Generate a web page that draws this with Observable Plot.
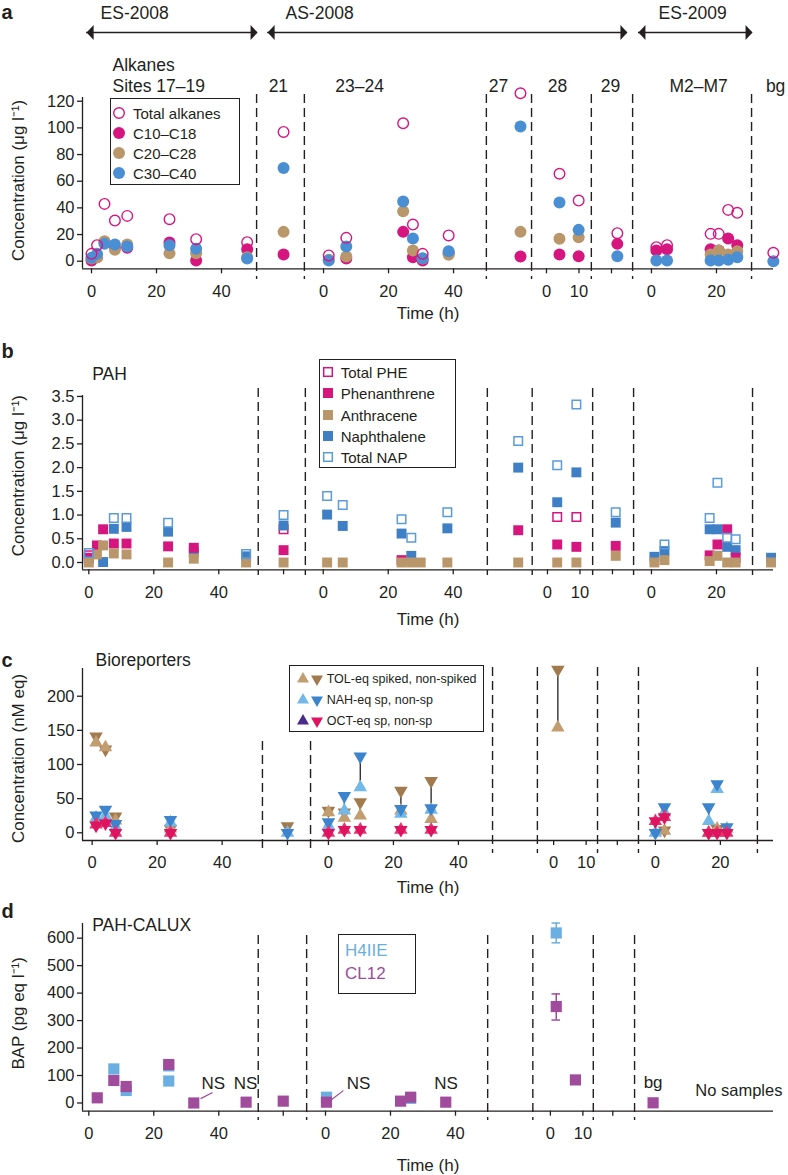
<!DOCTYPE html>
<html><head><meta charset="utf-8">
<script src="https://cdn.jsdelivr.net/npm/d3@7"></script>
<script src="https://cdn.jsdelivr.net/npm/@observablehq/plot@0.6"></script>
<style>
body{margin:0;background:#fff;}
#fig{position:relative;width:788px;height:1175px;font-family:"Liberation Sans",Arial,Helvetica,sans-serif;color:#231f20;overflow:hidden;}
#fig svg.pl{display:block;}
.leg{position:absolute;border:1.5px solid #231f20;box-sizing:border-box;}
.lt{position:absolute;white-space:nowrap;line-height:1;transform:translateY(-50%);}
</style></head><body><div id="fig"></div><script>
// ================= DATA =================
// Panel a — alkanes (µg/l); site group and time (h) of each sample
const alkSite = ["17–19","17–19","17–19","17–19","17–19","17–19","17–19","17–19","21",
  "23–24","23–24","23–24","23–24","23–24","23–24","27","28","28","29",
  "M2–M7","M2–M7","M2–M7","M2–M7","M2–M7","M2–M7","bg"];
const alkTime = [0,1.7,4,7.2,11,24,32.2,47.9,0, 1.6,7,24.5,27.5,30.5,38.5,0,4,9.9,1.8, 1.5,4.8,18.2,20.7,23.6,26.4,0];
const totalAlkanes = [5.5,12,43,30.5,34,31.5,16.5,14.3,97, 4.3,17.5,103.5,27.5,5.5,19.3,126,65.6,45.5,21, 10.5,12,20.5,20.5,38.5,36.3,6.3];
const c10c18 = [0.5,3,14,10,10,14,0.5,9,5, null,2,22,3,0.5,6,3.5,5,3.8,13, 8,9,9,8,17,12,null];
const c20c28 = [2,3,15,8.5,12.5,6,6,3,22, 1,3.5,37.5,8,2,4.8,22,16.8,18,null, null,null,5,8,5,7.5,null];
const c30c40 = [2.5,5.5,13,12.5,11,12,9.3,2,70, 0.5,11,44.8,17,2.3,7.5,101,44,23.5,3.8, 0.5,0.5,0.5,0.5,1,3,0];

// Panel b — PAH (µg/l)
const pahSite = ["17–19","17–19","17–19","17–19","17–19","17–19","17–19","17–19","21",
  "23–24","23–24","23–24","23–24","23–24","23–24","27","28","28","29",
  "M2–M7","M2–M7","M2–M7","M2–M7","M2–M7","M2–M7","bg"];
const pahTime = [0,2.5,4.4,7.7,11.6,24.4,32.3,48.4,0, 1.2,6,24.1,27.1,30,38.2,0,3,8.9,1, 0.9,4,17.9,20.3,23.3,25.9,0];
const totalPHE = [0.15,null,null,null,null,null,null,null,0.7, null,null,null,null,null,null,null,0.96,0.96,null, null,null,null,null,null,null,null];
const phenanthrene = [0.1,0.36,0.7,0.4,0.4,0.34,0.31,null,0.26, null,null,0.05,null,null,null,0.68,0.38,0.33,0.35, null,null,0.15,0.38,0.7,0.1,null];
const anthracene = [0,0.17,0.36,0.19,0.17,0,0.08,0,0, 0,0,0,0,0,0,0,0,0,0.14, 0,0.05,0.03,0.14,0,0,0];
const naphthalene = [0.08,null,0.01,0.71,0.75,0.65,0.22,0.13,0.78, 1.01,0.77,0.61,0.14,null,0.72,2.0,1.27,1.9,0.84, 0.12,0.24,0.7,0.7,0.33,0.26,0.1];
const totalNAP = [0.2,null,null,0.94,0.94,0.84,null,0.18,1.0, 1.4,1.21,0.91,0.52,null,1.06,2.56,2.05,3.33,1.06, null,0.38,0.94,1.68,0.52,0.49,null];

// Panel c — bioreporters (nM eq); spiked (up) / non-spiked (down)
const bioSite = ["17–19","17–19","17–19","17–19","21","23–24","23–24","23–24","23–24","23–24","28",
  "M2–M7","M2–M7","M2–M7","M2–M7","M2–M7"];
const bioTime = [1.2,4.1,7.2,24.1,0, 0,4.9,9.8,22.3,31.6,1.3, 0,2.8,16.4,19,22];
const tolSpiked = [132,125,18,6,null, 30,22,25,32.5,20,154, null,3,0,5.8,null];
const tolNonSpiked = [141,122,24,6,9.7, 32.5,30,44.7,61.7,76,238.8, null,3.4,0,5.8,null];
const nahSpiked = [22,25,9,15,0, 10.7,32.5,66.5,27.7,33.5,null, 0,30,17,64,6];
const nahNonSpiked = [25.4,33.8,13,19,0, 15.5,54,111.7,35,36,null, 0,37.4,37.4,71.4,8.3];
const octSpiked = [12,14,0,0,null, 0,4.4,4.4,4.4,4.4,null, 17,22.8,0,0,0];
const octNonSpiked = [10.7,14,0,0,null, 0,4.4,4.4,4.4,4.4,null, 17,22.8,0,0,0];

// Panel d — PAH-CALUX (pg BAP eq/l)
const caluxSite = ["17–19","17–19","17–19","17–19","17–19","17–19","21","23–24","23–24","23–24","23–24","28","28","bg"];
const caluxTime = [2.6,7.7,11.5,24.6,32.3,48.4,0, 0.3,23.1,26.2,37,1.8,7.7,0];
const h4iie = [null,124,45.5,135,null,null,null, 21,null,17,null,619,null,null];
const cl12 = [18.8,82,60,140,0,3,6.7, 3,6.7,21,3,351,84,0.6];
const h4iieLow = [null,null,null,null,null,null,null, null,null,null,null,583,null,null];
const h4iieHigh = [null,null,null,null,null,null,null, null,null,null,null,655,null,null];
const cl12Low = [null,null,null,null,null,null,null, null,null,null,null,302,null,null];
const cl12High = [null,null,null,null,null,null,null, null,null,null,null,397,null,null];
const h4iieSecond = [null,null,null,80,null,null,null, null,null,null,null,null,null,null];

// ================= LAYOUT =================
const INK = "#231f20";
const FONT = '"Liberation Sans", Arial, Helvetica, sans-serif';
const MAG = "#d6157f", TAN = "#b9976b", BLUE = "#4a8ed3", NAVY = "#3f7fc6", NAPO = "#5b9bd8";
const TOL_UP = "#c29d70", TOL_DN = "#a17a4d", NAH_UP = "#72b9ea", NAH_DN = "#3c84cd", OCT_UP = "#4a2b8a", OCT_DN = "#de1461", OCT_UP_DATA = "#e3386f";
const H4 = "#6aaee2", CL = "#a04b9c";

const xDomain = [-2.77, 209.85];
const baseTicks = [["17–19",0,"0"],["17–19",20,"20"],["17–19",40,"40"],["23–24",0,"0"],["23–24",20,"20"],["23–24",40,"40"],["28",0,"0"],["28",10,"10"],["29",0,""]];
const layout = {
  a: {off: {"17–19":0,"21":59.1,"23–24":71.4,"27":132,"28":140,"29":160,"M2–M7":172.3,"bg":209.8},
      dashes: [{xs:[50.8,65.5,121.5,135.4,153.8,166.5,203.1], top:-3, bottom:-10.7}],
      ticks: [...baseTicks,["M2–M7",0,"0"],["M2–M7",20,"20"]]},
  b: {off: {"17–19":-0.83,"21":59.1,"23–24":71.3,"27":131.3,"28":140.3,"29":160.3,"M2–M7":172.3,"bg":209.1},
      dashes: [{xs:[51.3,65.8,121.8,135.6,154.2,166.8,203.4], top:-7, bottom:-5.7}],
      ticks: [...baseTicks,["21",0,""],["M2–M7",0,"0"],["M2–M7",20,"20"]]},
  c: {off: {"17–19":0.2,"21":60.3,"23–24":72.9,"27":132,"28":142.2,"29":161.8,"M2–M7":173.5},
      dashes: [{xs:[52.6,67.4], top:73, bottom:-13},{xs:[123.4,137.2,155.7,168.3,204.9], top:-1, bottom:-13}],
      ticks: [...baseTicks,["21",0,""],["M2–M7",0,"0"],["M2–M7",20,"20"]]},
  d: {off: {"17–19":-0.83,"21":59.0,"23–24":72.0,"28":141.2,"29":160.4,"bg":172.8},
      dashes: [{xs:[51.3,66.2,121.9,135.8,154.4,167.1], top:12, bottom:-9.3}],
      ticks: [...baseTicks,["21",0,""]]}
};
const campaigns = [
  {name:"ES-2008", from:-1.5, to:51.1, labelAt:2.8},
  {name:"AS-2008", from:54.2, to:164.9, labelAt:59.7},
  {name:"ES-2009", from:168.3, to:203.4, labelAt:174.5}
];
const siteLabelsA = [
  {text:"21",u:57.5},{text:"23–24",u:82.5},{text:"27",u:125.2},{text:"28",u:143.4},
  {text:"29",u:159.7},{text:"M2–M7",u:186.8},{text:"bg",u:210.5}
];
const nsNotes = [
  {seg:"17–19",t:38.3,v:71,text:"NS"},{seg:"17–19",t:48.2,v:72,text:"NS"},
  {seg:"23–24",t:10.2,v:71,text:"NS"},{seg:"23–24",t:37.1,v:72,text:"NS"},
  {seg:"bg",t:0,v:76,text:"bg"}
];
const nsLeaders = [
  {seg:"17–19",t1:34.4,v1:16,t2:38.1,v2:38},
  {seg:"23–24",t1:1.5,v1:9,t2:5.5,v2:45}
];
const noSamplesAt = {u:199.2, v:43};

// ================= HELPERS =================
function rows(sites, times, vals) {
  return sites.map((seg, i) => ({seg, t: times[i], v: vals[i]})).filter(d => d.v != null);
}
const X = L => d => L.off[d.seg] + d.t;
const tri = dir => ({draw(ctx, size) {
  const r = Math.sqrt(size / Math.PI), s = 2.7 * r, h = s * Math.sqrt(3) / 2;
  ctx.moveTo(0, -dir * 2 * h / 3); ctx.lineTo(s / 2, dir * h / 3); ctx.lineTo(-s / 2, dir * h / 3); ctx.closePath();
}});
const triUp = tri(1), triDown = tri(-1);
const headLeft = {draw(ctx) { ctx.moveTo(0,0); ctx.lineTo(7,-7.5); ctx.lineTo(7,7.5); ctx.closePath(); }};
const headRight = {draw(ctx) { ctx.moveTo(0,0); ctx.lineTo(-7,-7.5); ctx.lineTo(-7,7.5); ctx.closePath(); }};
const TXT = {lineAnchor: "middle"};

function base(L, o) {
  const tickU = L.ticks.map(([s, t]) => L.off[s] + t);
  const tickLab = new Map(L.ticks.map(([s, t, l]) => [L.off[s] + t, l]));
  return [
    ...L.dashes.map(g => Plot.ruleX(g.xs, {x: d => d, stroke: INK, strokeWidth: 1.4, strokeDasharray: "9,5", insetTop: g.top, insetBottom: g.bottom})),
    Plot.ruleY([o.yDom[0]], {stroke: INK, strokeWidth: 1.3}),
    Plot.ruleX([xDomain[0]], {stroke: INK, strokeWidth: 1.3}),
    Plot.axisX({ticks: tickU, tickFormat: d => tickLab.get(d), tickSize: 5, tickPadding: 11, fontSize: 16.5, strokeWidth: 1.3, label: null}),
    Plot.axisY({ticks: o.yTicks, tickFormat: o.fmt, tickSize: 5, tickPadding: 3, fontSize: 16.5, strokeWidth: 1.3, label: null}),
    Plot.text([o.ylabel], {...TXT, frameAnchor: "left", textAnchor: "middle", rotate: -90, dx: -64, dy: o.ylabelDy, text: d => d, fontSize: 17}),
    Plot.text(["Time (h)"], {...TXT, frameAnchor: "bottom", textAnchor: "middle", dy: o.timeDy, text: d => d, fontSize: 17}),
    Plot.text([o.letter], {lineAnchor: "top", frameAnchor: "top-left", dx: -81, dy: o.letterDy, text: d => d, fontSize: 20, fontWeight: "bold", textAnchor: "start"}),
    Plot.text([o.title], {...TXT, frameAnchor: "top-left", dx: o.titleDx, dy: o.titleDy, text: d => d, fontSize: 17.5, textAnchor: "start"})
  ];
}
function make(opts) {
  const svg = Plot.plot({
    width: 788, height: opts.height, marginTop: opts.marginTop, marginBottom: opts.marginBottom,
    marginLeft: 82, marginRight: 15,
    x: {domain: xDomain}, y: {domain: opts.yDom},
    style: {fontFamily: FONT, fontSize: "17px", color: INK, background: "white"},
    marks: opts.marks
  });
  svg.classList.add("pl");
  return svg;
}
const fig = document.getElementById("fig");

// ================= PANEL A =================
const La = layout.a, xa = X(La), yDomA = [-5.7, 122.8];
fig.appendChild(make({height: 325, marginTop: 97, marginBottom: 56.7, yDom: yDomA, marks: [
  ...base(La, {yDom: yDomA, yTicks: [0,20,40,60,80,100,120], fmt: d3.format("d"), ylabel: "Concentration (μg l⁻¹)", ylabelDy: -2.7, timeDy: 44.7, letter: "a", letterDy: -92.5, title: "Alkanes", titleDx: 30, titleDy: -32}),
  Plot.text(["Sites 17–19"], {...TXT, frameAnchor: "top-left", dx: 30, dy: -11, text: d => d, fontSize: 17.5, textAnchor: "start"}),
  Plot.text(siteLabelsA, {...TXT, x: "u", frameAnchor: "top", dy: -11, text: "text", fontSize: 17.5}),
  Plot.ruleY(campaigns, {y: () => yDomA[1], x1: "from", x2: "to", dy: -65, stroke: INK, strokeWidth: 1.5}),
  Plot.dot(campaigns, {x: "from", y: () => yDomA[1], dy: -65, symbol: headLeft, r: 5, fill: INK}),
  Plot.dot(campaigns, {x: "to", y: () => yDomA[1], dy: -65, symbol: headRight, r: 5, fill: INK}),
  Plot.text(campaigns, {...TXT, x: "labelAt", y: () => yDomA[1], dy: -84, text: "name", textAnchor: "start", fontSize: 17.5}),
  Plot.dot(rows(alkSite, alkTime, c10c18), {x: xa, y: "v", r: 6, fill: MAG}),
  Plot.dot(rows(alkSite, alkTime, c20c28), {x: xa, y: "v", r: 6, fill: TAN}),
  Plot.dot(rows(alkSite, alkTime, c30c40), {x: xa, y: "v", r: 6, fill: BLUE}),
  Plot.dot(rows(alkSite, alkTime, totalAlkanes), {x: xa, y: "v", r: 5.3, fill: "none", stroke: MAG, strokeWidth: 1.4})
]}));

// ================= PANEL B =================
const Lb = layout.b, xb = X(Lb), yDomB = [-0.154, 3.52];
fig.appendChild(make({height: 307, marginTop: 70, marginBottom: 62.7, yDom: yDomB, marks: [
  ...base(Lb, {yDom: yDomB, yTicks: [0,0.5,1,1.5,2,2.5,3,3.5], fmt: d3.format(".1f"), ylabel: "Concentration (μg l⁻¹)", ylabelDy: -7, timeDy: 50, letter: "b", letterDy: -52, title: "PAH", titleDx: 9.7, titleDy: -21}),
  Plot.dot(rows(pahSite, pahTime, totalPHE), {x: xb, y: "v", symbol: "square", r: 4.8, fill: "none", stroke: MAG, strokeWidth: 1.5}),
  Plot.dot(rows(pahSite, pahTime, naphthalene), {x: xb, y: "v", symbol: "square", r: 5.6, fill: NAVY}),
  Plot.dot(rows(pahSite, pahTime, phenanthrene), {x: xb, y: "v", symbol: "square", r: 5.6, fill: MAG}),
  Plot.dot(rows(pahSite, pahTime, anthracene), {x: xb, y: "v", symbol: "square", r: 5.6, fill: TAN}),
  Plot.dot(rows(pahSite, pahTime, totalNAP), {x: xb, y: "v", symbol: "square", r: 4.8, fill: "none", stroke: NAPO, strokeWidth: 1.5})
]}));

// ================= PANEL C =================
const Lc = layout.c, xc = X(Lc), yDomC = [-11.3, 240.6];
const pairs = (up, dn) => bioSite.map((seg, i) => ({seg, t: bioTime[i], lo: up[i], hi: dn[i]})).filter(d => d.lo != null && d.hi != null);
const links = [...pairs(tolSpiked, tolNonSpiked), ...pairs(nahSpiked, nahNonSpiked)];
fig.appendChild(make({height: 268, marginTop: 36, marginBottom: 60, yDom: yDomC, marks: [
  ...base(Lc, {yDom: yDomC, yTicks: [0,50,100,150,200], fmt: d3.format("d"), ylabel: "Concentration (nM eq)", ylabelDy: 4, timeDy: 46.7, letter: "c", letterDy: -16, title: "Bioreporters", titleDx: 13, titleDy: -8}),
  Plot.ruleX(links, {x: xc, y1: "lo", y2: "hi", stroke: INK, strokeWidth: 1.3}),
  Plot.dot(rows(bioSite, bioTime, tolNonSpiked), {x: xc, y: "v", symbol: triDown, r: 5, fill: TOL_DN}),
  Plot.dot(rows(bioSite, bioTime, tolSpiked), {x: xc, y: "v", symbol: triUp, r: 5, fill: TOL_UP}),
  Plot.dot(rows(bioSite, bioTime, nahSpiked), {x: xc, y: "v", symbol: triUp, r: 5, fill: NAH_UP}),
  Plot.dot(rows(bioSite, bioTime, nahNonSpiked), {x: xc, y: "v", symbol: triDown, r: 5, fill: NAH_DN}),
  Plot.dot(rows(bioSite, bioTime, octSpiked), {x: xc, y: "v", symbol: triUp, r: 5, fill: OCT_UP_DATA}),
  Plot.dot(rows(bioSite, bioTime, octNonSpiked), {x: xc, y: "v", symbol: triDown, r: 5, fill: OCT_DN})
]}));

// ================= PANEL D =================
const Ld = layout.d, xd = X(Ld), yDomD = [-29.9, 653.4];
const errs = (lo, hi) => caluxSite.map((seg, i) => ({seg, t: caluxTime[i], lo: lo[i], hi: hi[i]})).filter(d => d.lo != null);
const caps = e => e.flatMap(d => [{...d, y: d.lo}, {...d, y: d.hi}]);
const eH = errs(h4iieLow, h4iieHigh), eC = errs(cl12Low, cl12High);
fig.appendChild(make({height: 275, marginTop: 23, marginBottom: 64.3, yDom: yDomD, marks: [
  ...base(Ld, {yDom: yDomD, yTicks: [0,100,200,300,400,500,600], fmt: d3.format("d"), ylabel: "BAP (pg eq l⁻¹)", ylabelDy: -4, timeDy: 54.3, letter: "d", letterDy: -20, title: "PAH-CALUX", titleDx: 9.7, titleDy: 2}),
  Plot.link(nsLeaders, {x1: d => Ld.off[d.seg] + d.t1, y1: "v1", x2: d => Ld.off[d.seg] + d.t2, y2: "v2", stroke: CL, strokeWidth: 1.2}),
  Plot.text(nsNotes, {x: d => Ld.off[d.seg] + d.t, y: "v", text: "text", fontSize: 17}),
  Plot.text(["No samples"], {x: () => noSamplesAt.u, y: () => noSamplesAt.v, text: d => d, fontSize: 16.5}),
  Plot.ruleX(eH, {x: xd, y1: "lo", y2: "hi", stroke: H4, strokeWidth: 1.5}),
  Plot.ruleY(caps(eH), {y: "y", x1: d => xd(d) - 1.3, x2: d => xd(d) + 1.3, stroke: H4, strokeWidth: 1.5}),
  Plot.ruleX(eC, {x: xd, y1: "lo", y2: "hi", stroke: CL, strokeWidth: 1.5}),
  Plot.ruleY(caps(eC), {y: "y", x1: d => xd(d) - 1.3, x2: d => xd(d) + 1.3, stroke: CL, strokeWidth: 1.5}),
  Plot.dot(rows(caluxSite, caluxTime, h4iie), {x: xd, y: "v", symbol: "square", r: 6.3, fill: H4}),
  Plot.dot(rows(caluxSite, caluxTime, h4iieSecond), {x: xd, y: "v", symbol: "square", r: 6.3, fill: H4}),
  Plot.dot(rows(caluxSite, caluxTime, cl12), {x: xd, y: "v", symbol: "square", r: 6.3, fill: CL})
]}));

// ================= LEGENDS (overlay) =================
const NS = "http://www.w3.org/2000/svg";
function box(l, t, w, h) { const d = document.createElement("div"); d.className = "leg"; Object.assign(d.style, {left: l + "px", top: t + "px", width: w + "px", height: h + "px"}); fig.appendChild(d); }
function label(x, y, txt, size, color) { const s = document.createElement("div"); s.className = "lt"; s.textContent = txt; Object.assign(s.style, {left: x + "px", top: y + "px", fontSize: size + "px", color: color || INK}); fig.appendChild(s); }
function marker(cx, cy, inner) { const s = document.createElementNS(NS, "svg"); s.setAttribute("width", 20); s.setAttribute("height", 20); s.setAttribute("viewBox", "-10 -10 20 20"); Object.assign(s.style, {position: "absolute", left: (cx - 10) + "px", top: (cy - 10) + "px"}); s.innerHTML = inner; fig.appendChild(s); }
const circ = (c, open) => open ? `<circle r="5.3" fill="none" stroke="${c}" stroke-width="1.4"/>` : `<circle r="6" fill="${c}"/>`;
const sq = (c, open) => open ? `<rect x="-4.3" y="-4.3" width="8.6" height="8.6" fill="none" stroke="${c}" stroke-width="1.5"/>` : `<rect x="-5" y="-5" width="10" height="10" fill="${c}"/>`;
const tu = c => `<polygon points="0,-6.9 6,3.5 -6,3.5" fill="${c}"/>`;
const td = c => `<polygon points="0,6.9 6,-3.5 -6,-3.5" fill="${c}"/>`;

// a
box(110, 98, 130, 87);
[["Total alkanes", circ(MAG, true)], ["C10–C18", circ(MAG)], ["C20–C28", circ(TAN)], ["C30–C40", circ(BLUE)]]
  .forEach(([t, m], i) => { const y = 113 + 20 * i; marker(119, y, m); label(133, y, t, 15); });
// b
box(319, 359, 137, 109);
[["Total PHE", sq(MAG, true)], ["Phenanthrene", sq(MAG)], ["Anthracene", sq(TAN)], ["Naphthalene", sq(NAVY)], ["Total NAP", sq(NAPO, true)]]
  .forEach(([t, m], i) => { const y = 371.7 + 21.4 * i; marker(328.3, y, m); label(340.7, y, t, 15); });
// c
box(289, 665, 195, 67);
[["TOL-eq spiked, non-spiked", TOL_UP, TOL_DN], ["NAH-eq sp, non-sp", NAH_UP, NAH_DN], ["OCT-eq sp, non-sp", OCT_UP, OCT_DN]]
  .forEach(([t, cu, cd], i) => { const y = 679 + 20.8 * i; marker(302.7, y, tu(cu)); marker(316.7, y, td(cd)); label(326.7, y, t, 12.5); });
// d
box(338, 934, 78, 60);
label(345, 950, "H4IIE", 17, H4);
label(345, 973, "CL12", 17, CL);
</script></body></html>
